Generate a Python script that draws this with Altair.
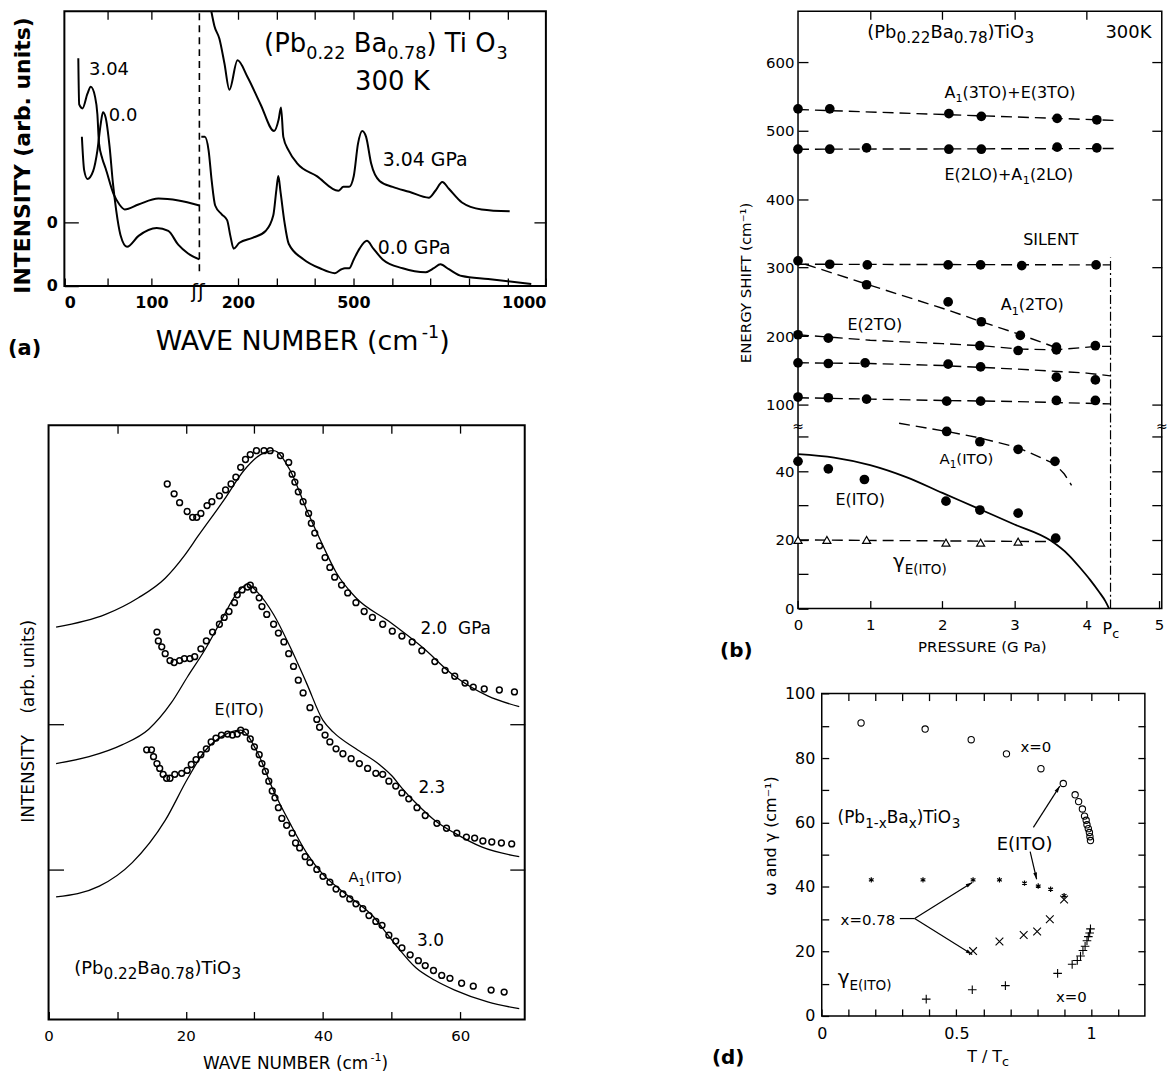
import math
import altair as alt
import pandas as pd

FONT = "DejaVu Sans"
W, H = 1160, 1066


def LX(p):
    return 2 + (p - 10) * 0.993


def LY(p):
    return 1 + (p - 5) * 0.985


# ---------------- panel (a): Raman spectra ----------------
A304_L_WN = [16, 17, 20.8, 26.5, 30.3, 35.2, 37.9, 39.8, 43.5, 47.3, 56.8, 63.2, 69.3, 85, 108, 131, 155]
A304_L_I = [232, 185, 181, 196, 203, 193, 175, 145, 130, 120, 93, 83, 78, 83, 89, 87, 82]
A00_L_WN = [20.1, 22.7, 26.5, 33, 37.9, 41.7, 44.3, 47.3, 51.9, 55.7, 59.5, 64.4, 71.9, 85.2, 106, 119.3, 130.7, 142, 155]
A00_L_I = [152, 118, 109, 117, 138, 165, 177, 172, 142, 105, 77, 52, 40, 51, 59, 56, 42, 33, 27]
A304_R_WN = [131, 139, 152, 165, 178, 199, 225, 259, 294, 306, 312, 318, 332, 354, 405, 461, 474, 489, 501, 512,
             523, 533, 546, 568, 602, 645, 696, 713, 731, 748, 782, 833, 906]
A304_R_I = [280, 265, 252, 227, 200, 230, 213, 185, 158, 170, 182, 152, 138, 125, 112, 97, 101, 101, 112, 145,
            158, 152, 125, 107, 101, 96, 90, 97, 106, 99, 85, 78, 76]
A00_R_WN = [105, 114, 124, 132, 141, 158, 172, 181, 189, 204, 238, 272, 292, 300, 305, 311, 321, 332, 371, 413,
            452, 469, 478, 489, 501, 516, 535, 552, 576, 628, 688, 709, 726, 748, 782, 850, 962]
A00_R_I = [152, 152, 138, 107, 82, 73, 67, 50, 38, 44, 49, 56, 72, 98, 112, 95, 65, 43, 27, 18,
           13, 17, 18, 18, 27, 38, 46, 38, 27, 18, 14, 18, 22, 17, 10, 7, 2]
A_BREAK = 155          # wavenumber where the axis is broken
A_ZERO_UPPER = 65      # zero line of the 3.04 GPa spectrum
A_LEFT_TICKS = [0, 50, 100]
A_RIGHT_TICKS = [200, 300, 400, 500, 600, 700, 800, 900, 1000]
A_LABELS = [0, 100, 200, 500, 1000]

# ---------------- panel (b): mode energies vs pressure ----------------
B_A13_P = [0, 0.44, 2.09, 2.54, 3.59, 4.14]
B_A13_E = [532, 532, 525, 521, 518, 516]
B_A13F_P = [0, 4.42]
B_A13F_E = [531, 515]
B_E2LO_P = [0, 0.44, 0.95, 2.09, 2.54, 3.59, 4.14]
B_E2LO_E = [473, 473, 475, 473, 473, 476, 475]
B_E2LOF_P = [0, 4.42]
B_E2LOF_E = [473, 474]
B_SIL_P = [0, 0.44, 0.96, 2.08, 2.53, 3.1, 4.13]
B_SIL_E = [310, 305, 304, 304, 304, 303, 304]
B_SILF_P = [0, 4.33]
B_SILF_E = [305, 304]
B_A12_P = [0.95, 2.08, 2.54, 3.08, 3.58]
B_A12_E = [275, 250, 221, 201, 184]
B_A12F_P = [0.1, 0.95, 2.08, 2.54, 2.83, 3.08, 3.35, 3.58]
B_A12F_E = [305, 276, 238, 221, 211, 202, 192, 183]
B_E2_P = [0, 0.42, 2.52, 3.05, 3.58, 4.12]
B_E2_E = [202, 197, 186, 179, 180, 186]
B_E2F_P = [0, 1.0, 2.0, 2.54, 3.08, 3.58, 4.13, 4.33]
B_E2F_E = [202, 194, 189, 186, 181, 180, 185, 185]
B_160_P = [0, 0.42, 0.93, 2.08, 2.53, 3.58, 4.12]
B_160_E = [161, 160, 161, 159, 155, 140, 136]
B_160F_P = [0, 1, 2, 3, 4, 4.33]
B_160F_E = [161, 160, 157, 152, 146, 142]
B_110_P = [0, 0.42, 0.95, 2.06, 2.53, 3.58, 4.12]
B_110_E = [111, 110, 108, 105, 105, 106, 106]
B_110F_P = [0, 1, 2, 3, 4.33]
B_110F_E = [110, 108, 106, 104.5, 101]
B_A11_P = [2.06, 2.52, 3.05, 3.56]
B_A11_E = [51.6, 48.6, 46.4, 42.9]
B_A11F_P = [1.4, 2.06, 2.52, 3.05, 3.56, 3.69, 3.79]
B_A11F_E = [54, 51.6, 49.7, 46.9, 42.1, 39.2, 35.9]
B_E1_P = [0, 0.42, 0.92, 2.05, 2.52, 3.05, 3.57]
B_E1_E = [42.9, 40.7, 37.6, 31.3, 28.7, 27.8, 20.5]
B_E1F_P = [0, 0.5, 1.0, 1.5, 2.0, 2.5, 3.0, 3.5, 3.75, 3.92, 4.05, 4.17, 4.26, 4.31]
B_E1F_E = [45, 44, 41.8, 38.3, 33.7, 29.1, 24.5, 19.8, 15.6, 11.6, 8.3, 4.9, 2.1, 0]
B_G_P = [0, 0.4, 0.95, 2.05, 2.53, 3.05]
B_G_E = [20, 20, 20, 19.2, 19.2, 19.5]
B_GF_P = [0, 3.58]
B_GF_E = [20, 19.5]
B_PC = 4.33
B_PC_TOP = 315
B_Y_TICKS = [0, 10, 20, 30, 40, 50, 100, 200, 300, 400, 500, 600]
B_Y_LABELS = [0, 20, 40, 100, 200, 300, 400, 500, 600]

# ---------------- panel (c): low-frequency spectra with fits ----------------
C20_X = [17.3, 18.3, 19.1, 20.2, 21.0, 21.6, 22.2, 23.1, 23.8, 24.9, 25.8, 26.6, 27.3, 28.0, 28.7, 29.4, 30.3,
         31.4, 32.3, 33.8, 35.0, 35.5, 35.9, 36.4, 37.1, 37.9, 38.3, 38.8, 39.5, 40.3, 41.0, 41.7, 42.7, 43.6,
         44.8, 46.0, 47.2, 48.7, 50.1, 51.5, 53.0, 54.4, 56.3, 57.8, 59.2, 60.7, 61.9, 63.5, 65.7, 67.9]
C20_Y = [546, 536, 527, 518, 512, 512, 516, 524, 528, 534, 540, 546, 553, 563, 571, 576, 580, 580, 580, 575, 568,
         556, 548, 538, 528, 516, 506, 496, 483, 471, 461, 451, 443, 435, 425, 416, 410, 403, 396, 391, 385, 376,
         365, 356, 350, 343, 339, 337, 336, 334]
C20_FX = [1.1, 8.3, 13.1, 17.0, 19.8, 21.8, 25.6, 28.5, 30.9, 32.8, 35.2, 37.6, 40.0, 41.9, 44.8, 49.6, 54.4,
          59.2, 64.0, 68.6]
C20_FY = [400, 413, 430, 450, 473, 493, 530, 560, 576, 580, 560, 520, 483, 456, 430, 406, 380, 350, 330, 319]
C23_X = [15.8, 16.0, 16.5, 17.0, 17.7, 18.3, 19.1, 19.8, 20.6, 21.3, 22.2, 23.0, 23.9, 24.9, 25.6, 26.3, 27.1,
         27.5, 28.2, 29.0, 29.4, 29.9, 30.7, 31.1, 31.8, 32.8, 33.5, 34.3, 35.0, 35.7, 36.4, 37.1, 38.1, 39.1,
         39.5, 40.3, 41.0, 41.9, 42.9, 44.1, 45.3, 46.5, 47.7, 48.7, 49.6, 50.6, 51.5, 52.5, 53.7, 54.9, 56.6,
         58.0, 59.5, 60.9, 62.1, 63.3, 64.6, 66.0, 67.5]
C23_Y = [395, 386, 380, 373, 366, 364, 366, 368, 368, 370, 378, 386, 395, 403, 410, 416, 425, 433, 438, 441, 443,
         438, 430, 421, 413, 403, 394, 385, 373, 360, 346, 333, 318, 306, 298, 290, 283, 276, 271, 266, 261, 256,
         251, 250, 243, 238, 231, 225, 216, 208, 200, 195, 190, 186, 185, 182, 181, 180, 179]
C23_FX = [1.1, 5.9, 10.7, 14.6, 17.9, 20.3, 22.7, 25.1, 27.5, 29.0, 30.4, 32.8, 35.2, 37.6, 40.0, 41.5, 44.8,
          48.2, 50.1, 51.5, 53.5, 56.3, 59.2, 63.1, 68.6]
C23_FY = [261, 268, 280, 296, 323, 350, 376, 406, 435, 444, 436, 413, 380, 343, 305, 293, 276, 260, 248, 236, 221,
          203, 190, 176, 166]
C30_X = [14.3, 15.0, 15.3, 15.8, 16.2, 16.7, 17.2, 17.7, 18.4, 19.4, 20.2, 20.8, 21.5, 22.2, 23.0, 23.7, 24.4,
         25.2, 26.1, 26.8, 27.5, 28.0, 28.7, 29.4, 30.0, 30.7, 31.1, 31.6, 32.1, 32.6, 33.0, 33.5, 34.0, 34.7,
         35.5, 36.0, 36.6, 37.4, 38.1, 39.1, 40.0, 41.0, 41.9, 42.9, 43.9, 44.8, 45.8, 46.7, 47.7, 48.6, 49.6,
         50.6, 51.5, 52.7, 53.9, 54.9, 56.1, 57.3, 58.5, 60.2, 61.9, 64.5, 66.4]
C30_Y = [275, 275, 268, 261, 256, 250, 246, 246, 250, 251, 254, 260, 265, 270, 276, 283, 287, 290, 291, 290, 291,
         295, 293, 286, 278, 270, 261, 253, 243, 233, 226, 216, 205, 198, 190, 180, 175, 166, 160, 153, 146, 140,
         133, 128, 123, 118, 113, 106, 100, 96, 86, 80, 73, 66, 60, 55, 50, 45, 42, 37, 34, 30, 28]
C30_FX = [1.1, 7.4, 12.2, 17.0, 20.3, 22.7, 25.6, 28.0, 30.4, 32.8, 35.2, 37.6, 40.0, 42.4, 44.8, 47.2, 48.7,
          50.6, 53.5, 56.3, 59.2, 64.0, 68.6]
C30_FY = [125, 136, 160, 203, 246, 273, 290, 295, 273, 233, 200, 170, 148, 133, 120, 106, 93, 76, 53, 40, 30, 18, 11]
C_Y_TICKS = [153, 301]

# ---------------- panel (d): omega and gamma vs T/Tc ----------------
D_CIRC_T = [0.146, 0.384, 0.555, 0.686, 0.814, 0.897, 0.941, 0.954, 0.968, 0.976, 0.982, 0.985, 0.990, 0.994,
            0.996, 0.998]
D_CIRC_W = [90.9, 89.0, 85.7, 81.3, 76.7, 72.1, 68.6, 66.5, 64.2, 62.0, 60.7, 59.3, 58.1, 56.9, 55.6, 54.4]
D_STAR_T = [0.184, 0.376, 0.562, 0.66, 0.753, 0.804, 0.85, 0.9]
D_STAR_W = [42.2, 42.2, 42.2, 42.2, 41.2, 40.3, 39.3, 37.3]
D_X_T = [0.562, 0.66, 0.75, 0.8, 0.847, 0.9]
D_X_W = [20.1, 23.1, 25.1, 26.2, 30.0, 36.1]
D_PLUS_T = [0.388, 0.559, 0.682, 0.876, 0.93, 0.949, 0.961, 0.97, 0.978, 0.985, 0.99, 0.995, 0.998]
D_PLUS_W = [5.2, 8.1, 9.4, 13.2, 16.0, 17.2, 18.6, 20.3, 21.6, 23.3, 24.6, 25.7, 27.0]
# annotation arrows: (series, [T0, T1], [w0, w1], arrowhead at end?)
D_ARROWS = [
    ("e_up", [0.786, 0.884], [58.5, 71.3], True),
    ("e_dn", [0.774, 0.798], [51.0, 42.4], True),
    ("stub", [0.29, 0.345], [30.2, 30.2], False),
    ("x_up", [0.345, 0.559], [30.2, 41.4], True),
    ("x_dn", [0.345, 0.559], [30.2, 19.05], True),
]

# ---------------- helpers ----------------
NB = "\u00a0"
WID = {" ": .318, NB: .318, "(": .390, ")": .390, "+": .838, "-": .361, ".": .318, "/": .337, "=": .838,
       "A": .684, "B": .686, "C": .698, "D": .770, "E": .632, "G": .775, "H": .752, "I": .295, "K": .656,
       "L": .557, "M": .863, "N": .748, "O": .787, "P": .603, "R": .695, "S": .635, "T": .611, "U": .732,
       "V": .684, "W": .989, "Y": .611, "a": .613, "b": .635, "c": .550, "d": .635, "i": .278, "m": .974,
       "n": .634, "r": .411, "s": .521, "t": .392, "u": .634, "x": .592, "γ": .592, "ω": .838, "≈": .838,
       "ʃ": .30}
for _d in "0123456789":
    WID[_d] = .636


def tw(s):
    return sum(WID.get(c, 0.62) for c in s)


class Panel:
    def __init__(self, xdom, xpix, ydom, ypix):
        self.xdom, self.ydom = list(xdom), list(ydom)
        self.x0, self.x1 = LX(xpix[0]), LX(xpix[1])
        self.yb, self.yt = LY(ypix[0]), LY(ypix[1])
        self.xs = alt.Scale(domain=self.xdom, range=[self.x0, self.x1], nice=False, zero=False)
        self.ys = alt.Scale(domain=self.ydom, range=[self.yb, self.yt], nice=False, zero=False)
        self.kx = (self.x1 - self.x0) / (xdom[1] - xdom[0])
        self.ky = (self.yb - self.yt) / (ydom[1] - ydom[0])

    def enc(self, xaxis=None, yaxis=None):
        return dict(x=alt.X("x:Q", scale=self.xs, axis=xaxis), y=alt.Y("y:Q", scale=self.ys, axis=yaxis))


def axis(p, orient, L, values, labels=True, expr=None, pad=6, size=15, weight="normal", flush=False):
    if orient == "bottom":
        off = p.yb - L - H
    elif orient == "top":
        off = -(p.yt + L)
    elif orient == "left":
        off = -(p.x0 + L)
    else:
        off = p.x1 - L - W
    kw = dict(orient=orient, offset=off, tickSize=L, values=values, domain=False, grid=False, labels=labels,
              title=None, ticks=True, tickColor="black", tickWidth=1.3, labelFont=FONT, labelFontSize=size,
              labelColor="black", labelFontWeight=weight, labelPadding=pad, labelFlush=flush,
              labelOverlap=False)
    if expr is not None:
        kw["labelExpr"] = expr
    return alt.Axis(**kw)


def lab_expr(pairs):
    parts = [f"abs(datum.value - {v:.4f}) < 0.01 ? '{t}'" for v, t in pairs]
    return " : ".join(parts) + " : ''"


def frames(p, sw, main_axes, aux_axes):
    df = pd.DataFrame({"x": [p.xdom[0]], "x2": [p.xdom[1]], "y": [p.ydom[0]], "y2": [p.ydom[1]]})
    main = alt.Chart(df).mark_rect(fill="transparent", stroke="black", strokeWidth=sw).encode(
        x=alt.X("x:Q", scale=p.xs, axis=main_axes[0]), x2="x2",
        y=alt.Y("y:Q", scale=p.ys, axis=main_axes[1]), y2="y2")
    aux = alt.Chart(df).mark_rect(opacity=0).encode(
        x=alt.X("x:Q", scale=p.xs, axis=aux_axes[0]), x2="x2",
        y=alt.Y("y:Q", scale=p.ys, axis=aux_axes[1]), y2="y2")
    return [main, aux]


def rich(p, x, y, segs, size, anchor="start", sub=0.7):
    parts = []
    for text, kind in segs:
        if kind == "n":
            parts.append((text, size, 0.0))
        elif kind == "sub":
            parts.append((text, size * sub, -0.27 * size))
        else:
            parts.append((text, size * 0.65, 0.42 * size))
    total = sum(tw(t) * fs for t, fs, _ in parts)
    cur = {"start": 0.0, "middle": -total / 2, "end": -total}[anchor]
    rows = []
    for t, fs, dy in parts:
        lead = len(t) - len(t.lstrip(" "))
        core = t.strip(" ")
        cur += tw(" " * lead) * fs
        rows.append({"x": x + cur / p.kx, "y": y + dy / p.ky, "t": core.replace(" ", NB), "s": fs})
        cur += tw(t[lead:]) * fs
    return rows


def text_layer(p, rows, weight="normal"):
    df = pd.DataFrame(rows)
    return alt.Chart(df).mark_text(align="left", baseline="alphabetic", font=FONT, fontWeight=weight,
                                   color="black").encode(**p.enc(), text="t:N",
                                                         size=alt.Size("s:Q", scale=None))


def rot_layer(p, rows, weight="normal"):
    df = pd.DataFrame([{**r, "t": r["t"].replace(" ", NB)} for r in rows])
    return alt.Chart(df).mark_text(angle=270, align="center", baseline="middle", font=FONT, fontWeight=weight,
                                   color="black").encode(**p.enc(), text="t:N",
                                                         size=alt.Size("s:Q", scale=None))


def series_df(items):
    rows = []
    for name, xs, ys in items:
        assert len(xs) == len(ys), name
        for a, b in zip(xs, ys):
            rows.append({"series": name, "x": a, "y": b})
    return pd.DataFrame(rows)


def lines(p, items, **mk):
    return alt.Chart(series_df(items)).mark_line(color="black", **mk).encode(**p.enc(), detail="series:N")


def points(p, items, **mk):
    return alt.Chart(series_df(items)).mark_point(color="black", opacity=1, **mk).encode(**p.enc())


# ================= panel (a) =================
def apos(wn, right):
    return A_BREAK + (wn - 100) * 0.442 if right else wn


PA = Panel([0, apos(1000, True)], (65, 552), [0, 280], (285, 5))
a_bottom_vals = [apos(v, False) for v in A_LEFT_TICKS] + [apos(v, True) for v in A_RIGHT_TICKS]
a_top_vals = [apos(v, False) for v in A_LEFT_TICKS[1:]] + [apos(v, True) for v in A_RIGHT_TICKS[:-1]]
a_expr = lab_expr([(apos(v, v >= 200), str(v)) for v in A_LABELS])

a_layers = frames(
    PA, 2.0,
    (axis(PA, "bottom", 8, a_bottom_vals, expr=a_expr, pad=9, size=16, weight="bold", flush=True),
     axis(PA, "left", 14, [0, A_ZERO_UPPER], expr="'0'", pad=7, size=16, weight="bold")),
    (axis(PA, "top", 8, a_top_vals, labels=False),
     axis(PA, "right", 12, [A_ZERO_UPPER], labels=False)))
a_layers.append(lines(PA, [
    ("h_l", [apos(v, False) for v in A304_L_WN], A304_L_I),
    ("h_r", [apos(v, True) for v in A304_R_WN], A304_R_I),
    ("z_l", [apos(v, False) for v in A00_L_WN], A00_L_I),
    ("z_r", [apos(v, True) for v in A00_R_WN], A00_R_I),
], strokeWidth=2.0, interpolate="monotone", strokeJoin="round"))
a_layers.append(alt.Chart(pd.DataFrame({"x": [A_BREAK], "y": [15], "y2": [280]})).mark_rule(
    color="black", strokeWidth=1.6, strokeDash=[7, 5]).encode(**PA.enc(), y2="y2"))

title_a = [("(Pb", "n"), ("0.22", "sub"), (" Ba", "n"), ("0.78", "sub"), (") Ti O", "n"), ("3", "sub")]
a_txt = (rich(PA, 28.4, 215, [("3.04", "n")], 18)
         + rich(PA, 51, 168, [("0.0", "n")], 18)
         + rich(PA, 365.5, 122, [("3.04 GPa", "n")], 19)
         + rich(PA, 359.8, 33, [("0.0 GPa", "n")], 19)
         + rich(PA, 229.3, 238, title_a, 26, sub=0.68)
         + rich(PA, 376.6, 200, [("300 K", "n")], 26, anchor="middle")
         + rich(PA, 273.6, -65, [("WAVE NUMBER (cm", "n"), ("-1", "sup"), (")", "n")], 27, anchor="middle")
         + rich(PA, 152.5, -12, [("ʃʃ", "n")], 20, anchor="middle"))
a_layers.append(text_layer(PA, a_txt))
a_layers.append(text_layer(PA, rich(PA, -64.7, -70, [("(a)", "n")], 21), weight="bold"))
a_layers.append(rot_layer(PA, [{"x": -47.7, "y": 133, "t": "INTENSITY (arb. units)", "s": 22}], weight="bold"))
panel_a = alt.layer(*a_layers).resolve_axis(x="independent", y="independent")


# ================= panel (b) =================
def epos(e):
    return 3.5 * e if e < 75 else 208 + (e - 100) * 0.698


def E(vals):
    return [epos(v) for v in vals]


PB = Panel([0, 5.04], (807, 1174.9), [0, 609], (614, 5))
b_yvals = E(B_Y_TICKS)
b_expr = lab_expr([(epos(v), str(v)) for v in B_Y_LABELS])
b_layers = frames(
    PB, 1.5,
    (axis(PB, "bottom", 8, [0, 1, 2, 3, 4, 5], pad=9, size=15),
     axis(PB, "left", 10, b_yvals, expr=b_expr, pad=4, size=15)),
    (axis(PB, "top", 8, [1, 2, 3, 4], labels=False),
     axis(PB, "right", 10, b_yvals[1:], labels=False)))
b_layers.append(lines(PB, [
    ("a13", B_A13F_P, E(B_A13F_E)), ("e2lo", B_E2LOF_P, E(B_E2LOF_E)), ("sil", B_SILF_P, E(B_SILF_E)),
    ("a12", B_A12F_P, E(B_A12F_E)), ("e2", B_E2F_P, E(B_E2F_E)), ("r160", B_160F_P, E(B_160F_E)),
    ("r110", B_110F_P, E(B_110F_E)), ("a11", B_A11F_P, E(B_A11F_E)), ("g", B_GF_P, E(B_GF_E)),
], strokeWidth=1.4, strokeDash=[11, 6]))
b_layers.append(lines(PB, [("e1", B_E1F_P, E(B_E1F_E))], strokeWidth=1.8, interpolate="monotone"))
b_layers.append(alt.Chart(pd.DataFrame({"x": [B_PC], "y": [0], "y2": [epos(B_PC_TOP)]})).mark_rule(
    color="black", strokeWidth=1.2, strokeDash=[9, 3, 2, 3]).encode(**PB.enc(), y2="y2"))
b_layers.append(points(PB, [
    ("a13", B_A13_P, E(B_A13_E)), ("e2lo", B_E2LO_P, E(B_E2LO_E)), ("sil", B_SIL_P, E(B_SIL_E)),
    ("a12", B_A12_P, E(B_A12_E)), ("e2", B_E2_P, E(B_E2_E)), ("r160", B_160_P, E(B_160_E)),
    ("r110", B_110_P, E(B_110_E)), ("a11", B_A11_P, E(B_A11_E)), ("e1", B_E1_P, E(B_E1_E)),
], shape="circle", filled=True, size=95, strokeWidth=0))
b_layers.append(points(PB, [("g", B_G_P, E(B_G_E))], shape="triangle-up", filled=False, size=65,
                       strokeWidth=1.2, fill="white"))
title_b = [("(Pb", "n"), ("0.22", "sub"), ("Ba", "n"), ("0.78", "sub"), (")TiO", "n"), ("3", "sub")]
b_txt = (rich(PB, 0.96, 582, title_b, 18, sub=0.85)
         + rich(PB, 4.26, 582, [("300K", "n")], 18)
         + rich(PB, 2.03, 521, [("A", "n"), ("1", "sub"), ("(3TO)+E(3TO)", "n")], 16)
         + rich(PB, 2.03, 437, [("E(2LO)+A", "n"), ("1", "sub"), ("(2LO)", "n")], 16)
         + rich(PB, 3.12, 371, [("SILENT", "n")], 16)
         + rich(PB, 2.81, 304, [("A", "n"), ("1", "sub"), ("(2TO)", "n")], 16)
         + rich(PB, 0.685, 284, [("E(2TO)", "n")], 16)
         + rich(PB, 1.96, 147, [("A", "n"), ("1", "sub"), ("(ITO)", "n")], 15)
         + rich(PB, 0.52, 106, [("E(ITO)", "n")], 16)
         + rich(PB, 1.315, 41, [("γ", "n"), ("E(ITO)", "sub")], 20, sub=0.68)
         + rich(PB, 4.22, -26, [("P", "n"), ("c", "sub")], 16, sub=0.8)
         + rich(PB, 2.56, -44, [("PRESSURE (G Pa)", "n")], 15, anchor="middle")
         + rich(PB, 0, 181, [("≈", "n")], 14, anchor="middle")
         + rich(PB, 5.04, 181, [("≈", "n")], 14, anchor="middle"))
b_layers.append(text_layer(PB, b_txt))
b_layers.append(text_layer(PB, rich(PB, -1.08, -49, [("(b)", "n")], 20), weight="bold"))
b_layers.append(rot_layer(PB, [{"x": -0.726, "y": 332, "t": "ENERGY SHIFT (cm⁻¹)", "s": 15}]))
panel_b = alt.layer(*b_layers).resolve_axis(x="independent", y="independent")

# ================= panel (c) =================
PC = Panel([0, 69.4], (49, 530.6), [0, 606], (1033, 427))
c_layers = frames(
    PC, 2.0,
    (axis(PC, "bottom", 8, [0, 10, 20, 30, 40, 50, 60], expr="datum.value % 20 === 0 ? datum.label : ''",
          pad=9, size=15),
     axis(PC, "left", 15, C_Y_TICKS, labels=False)),
    (axis(PC, "top", 8, [10, 20, 30, 40, 50, 60], labels=False),
     axis(PC, "right", 15, C_Y_TICKS, labels=False)))
c_layers.append(lines(PC, [("f20", C20_FX, C20_FY), ("f23", C23_FX, C23_FY), ("f30", C30_FX, C30_FY)],
                      strokeWidth=1.3, interpolate="monotone"))
c_layers.append(points(PC, [("c20", C20_X, C20_Y), ("c23", C23_X, C23_Y), ("c30", C30_X, C30_Y)],
                       shape="circle", filled=False, size=34, strokeWidth=1.5))
title_c = [("(Pb", "n"), ("0.22", "sub"), ("Ba", "n"), ("0.78", "sub"), (")TiO", "n"), ("3", "sub")]
c_txt = (rich(PC, 24.2, 310, [("E(ITO)", "n")], 16)
         + rich(PC, 54.2, 393, [("2.0  GPa", "n")], 17)
         + rich(PC, 53.9, 231, [("2.3", "n")], 17)
         + rich(PC, 43.7, 140, [("A", "n"), ("1", "sub"), ("(ITO)", "n")], 15)
         + rich(PC, 53.7, 75, [("3.0", "n")], 17)
         + rich(PC, 3.75, 46, title_c, 18, sub=0.85)
         + rich(PC, 36, -50, [("WAVE NUMBER (cm", "n"), ("-1", "sup"), (")", "n")], 17, anchor="middle"))
c_layers.append(text_layer(PC, c_txt))
c_layers.append(rot_layer(PC, [{"x": -2.9, "y": 304, "t": "INTENSITY    (arb. units)", "s": 17}]))
panel_c = alt.layer(*c_layers).resolve_axis(x="independent", y="independent")

# ================= panel (d) =================
PD = Panel([0, 1.2], (831, 1157.8), [0, 100], (1029.3, 700.7))
d_xt = [round(i * 0.1, 1) for i in range(12)]
d_yt = list(range(0, 101, 10))
d_xexpr = ("abs(datum.value) < 0.001 ? '0' : abs(datum.value - 0.5) < 0.001 ? '0.5' : "
           "abs(datum.value - 1) < 0.001 ? '1' : ''")
d_layers = frames(
    PD, 1.5,
    (axis(PD, "bottom", 7, d_xt, expr=d_xexpr, pad=10, size=16),
     axis(PD, "left", 7, d_yt, expr="datum.value % 20 === 0 ? datum.label : ''", pad=7, size=16)),
    (axis(PD, "top", 7, d_xt[1:], labels=False),
     axis(PD, "right", 7, d_yt[1:-1], labels=False)))
d_layers.append(points(PD, [("o", D_CIRC_T, D_CIRC_W)], shape="circle", filled=False, size=40, strokeWidth=1.1))
d_layers.append(points(PD, [("s", D_STAR_T, D_STAR_W)],
                       shape="M0,-1L0,1M-0.87,-0.5L0.87,0.5M-0.87,0.5L0.87,-0.5",
                       filled=False, size=30, strokeWidth=1.2))
d_layers.append(points(PD, [("x", D_X_T, D_X_W)], shape="M-1,-1L1,1M-1,1L1,-1",
                       filled=False, size=60, strokeWidth=1.1))
d_layers.append(points(PD, [("p", D_PLUS_T, D_PLUS_W)], shape="M-1,0L1,0M0,-1L0,1",
                       filled=False, size=75, strokeWidth=1.1))
d_layers.append(lines(PD, [(n, ts, ws) for n, ts, ws, _ in D_ARROWS], strokeWidth=1.2))
heads = []
for n, ts, ws, has in D_ARROWS:
    if has:
        sdx = (ts[1] - ts[0]) * PD.kx
        sdy = -(ws[1] - ws[0]) * PD.ky
        ang = math.degrees(math.atan2(sdx, -sdy)) % 360
        heads.append({"x": ts[1], "y": ws[1], "a": ang})
d_layers.append(alt.Chart(pd.DataFrame(heads)).mark_point(
    shape="M0,0L0.4,1.4L-0.4,1.4Z", filled=True, color="black", size=90, opacity=1).encode(
    **PD.enc(), angle=alt.Angle("a:Q", scale=None)))
pb_d = [("(Pb", "n"), ("1-x", "sub"), ("Ba", "n"), ("x", "sub"), (")TiO", "n"), ("3", "sub")]
d_txt = (rich(PD, 0.738, 82, [("x=0", "n")], 15)
         + rich(PD, 0.0588, 59.7, pb_d, 17, sub=0.8)
         + rich(PD, 0.65, 51.5, [("E(ITO)", "n")], 18)
         + rich(PD, 0.07, 28.1, [("x=0.78", "n")], 15)
         + rich(PD, 0.059, 9.8, [("γ", "n"), ("E(ITO)", "sub")], 20, sub=0.68)
         + rich(PD, 0.87, 4.35, [("x=0", "n")], 15)
         + rich(PD, 0.54, -14.2, [("T / T", "n"), ("c", "sub")], 16, sub=0.8))
d_layers.append(text_layer(PD, d_txt))
d_layers.append(text_layer(PD, rich(PD, -0.408, -14.8, [("(d)", "n")], 20), weight="bold"))
d_layers.append(rot_layer(PD, [{"x": -0.187, "y": 55.8, "t": "ω and γ (cm⁻¹)", "s": 16}]))
panel_d = alt.layer(*d_layers).resolve_axis(x="independent", y="independent")

chart = (alt.layer(panel_a, panel_b, panel_c, panel_d)
         .resolve_scale(x="independent", y="independent")
         .resolve_axis(x="independent", y="independent")
         .properties(width=W, height=H, padding=0, background="white")
         .configure_view(stroke=None))

chart.save("out.html", embed_options={"renderer": "svg", "actions": False})
